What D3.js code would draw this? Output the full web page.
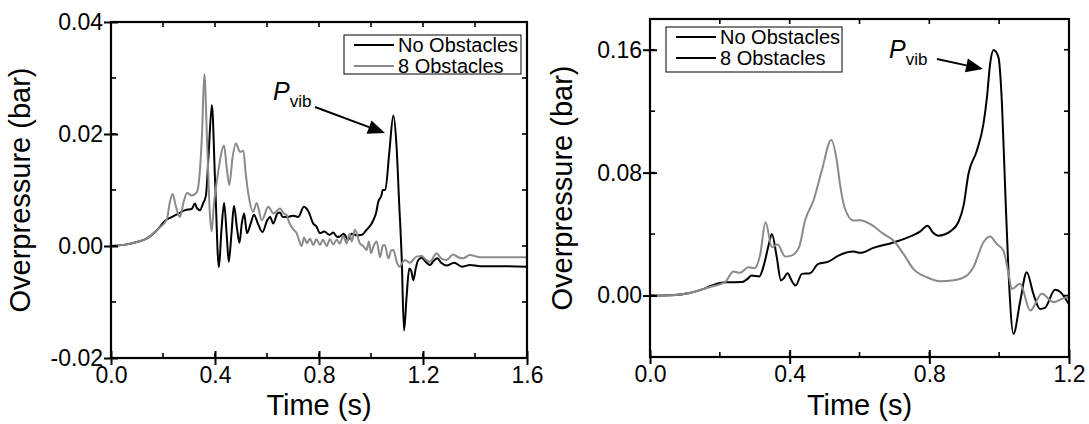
<!DOCTYPE html>
<html>
<head>
<meta charset="utf-8">
<script src="https://cdn.jsdelivr.net/npm/d3@7"></script>
<style>
  body { margin: 0; background: #fff; }
  text { font-family: "Liberation Sans", Arial, sans-serif; fill: #000; }
</style>
</head>
<body>
<script>
// Left panel data (time s, overpressure bar)
const leftTimeNo = [0,0.05,0.10,0.14,0.18,0.21,0.235,0.26,0.285,0.31,0.323,0.33,0.342,0.354,0.365,0.375,0.388,0.40,0.415,0.425,0.435,0.445,0.453,0.463,0.473,0.485,0.494,0.503,0.512,0.523,0.537,0.55,0.565,0.583,0.60,0.612,0.624,0.64,0.65,0.66,0.68,0.70,0.72,0.742,0.76,0.778,0.79,0.804,0.82,0.84,0.855,0.87,0.88,0.895,0.912,0.925,0.945,0.965,0.983,0.995,1.009,1.02,1.028,1.04,1.045,1.055,1.07,1.086,1.098,1.108,1.118,1.127,1.137,1.147,1.155,1.163,1.172,1.182,1.195,1.21,1.227,1.24,1.255,1.27,1.291,1.32,1.35,1.38,1.42,1.5,1.6];
const leftNo = [0,0.0002,0.0007,0.0014,0.003,0.0046,0.0052,0.0058,0.0064,0.0066,0.0076,0.0068,0.0064,0.0076,0.009,0.016,0.0252,0.012,-0.0038,0.003,0.0077,0.002,-0.0028,0.002,0.0072,0.003,0.0006,0.004,0.0058,0.0023,0.004,0.0056,0.004,0.0025,0.0045,0.0052,0.004,0.0058,0.006,0.0052,0.0052,0.0054,0.0052,0.007,0.0061,0.004,0.0035,0.0023,0.0026,0.002,0.0024,0.0016,0.0017,0.0022,0.0011,0.0022,0.0019,0.002,0.0029,0.0035,0.0046,0.006,0.0079,0.009,0.0100,0.0100,0.0165,0.0233,0.018,0.008,-0.002,-0.0151,-0.009,-0.004,-0.0045,-0.0061,-0.004,-0.0025,-0.0021,-0.0028,-0.0034,-0.0027,-0.0022,-0.003,-0.0035,-0.003,-0.0037,-0.0034,-0.0036,-0.0036,-0.0037];
const leftTime8 = [0,0.05,0.10,0.14,0.18,0.215,0.225,0.237,0.25,0.265,0.28,0.293,0.31,0.33,0.34,0.35,0.359,0.37,0.38,0.387,0.395,0.41,0.435,0.445,0.455,0.468,0.481,0.496,0.509,0.518,0.528,0.547,0.56,0.58,0.605,0.625,0.65,0.665,0.676,0.685,0.695,0.705,0.714,0.722,0.733,0.743,0.753,0.765,0.778,0.79,0.804,0.815,0.83,0.842,0.855,0.868,0.88,0.893,0.906,0.918,0.926,0.938,0.957,0.97,0.983,0.992,1.0,1.01,1.022,1.035,1.045,1.053,1.067,1.078,1.086,1.1,1.111,1.12,1.13,1.15,1.175,1.195,1.21,1.227,1.252,1.27,1.291,1.316,1.335,1.355,1.38,1.42,1.5,1.6];
const left8 = [0,0.0002,0.0007,0.0014,0.003,0.0048,0.0075,0.0093,0.0070,0.0052,0.0080,0.0095,0.009,0.0096,0.0124,0.020,0.0307,0.018,0.006,0.0026,0.007,0.0125,0.0179,0.014,0.0109,0.016,0.0183,0.0168,0.017,0.013,0.0094,0.0061,0.0077,0.0046,0.007,0.0058,0.0067,0.0058,0.0055,0.0042,0.0034,0.0028,0.0023,0.0012,0.0,0.0015,0.0005,0.0013,0.0002,0.0012,0.0002,0.0011,0.0,0.0012,0.0003,0.0011,0.0004,0.0018,0.0005,0.0022,0.0008,0.0029,0.0005,0.0,-0.0007,0.0008,-0.0013,0.0,0.0008,-0.002,0.0,0.0002,-0.0022,-0.0008,-0.0007,-0.003,-0.0037,-0.003,-0.0025,-0.003,-0.0019,-0.0018,-0.0024,-0.0028,-0.0013,-0.0022,-0.0025,-0.0015,-0.002,-0.0022,-0.0016,-0.002,-0.002,-0.002];

// Right panel data
const rightTimeNo = [0,0.06,0.11,0.15,0.177,0.2,0.215,0.24,0.263,0.28,0.291,0.313,0.327,0.34,0.349,0.363,0.375,0.382,0.394,0.405,0.417,0.435,0.458,0.482,0.511,0.54,0.583,0.602,0.64,0.697,0.735,0.774,0.795,0.81,0.826,0.86,0.883,0.898,0.912,0.936,0.955,0.965,0.974,0.984,0.998,1.008,1.017,1.027,1.041,1.06,1.079,1.098,1.117,1.131,1.16,1.175,1.2];
const rightNo = [0,0.0002,0.0015,0.004,0.0065,0.0082,0.0087,0.0087,0.0088,0.011,0.013,0.0124,0.0206,0.033,0.0401,0.025,0.0098,0.011,0.0145,0.010,0.0065,0.0141,0.0145,0.0206,0.0221,0.026,0.0286,0.0278,0.031,0.0345,0.0375,0.0418,0.0455,0.041,0.039,0.0418,0.0477,0.0585,0.0791,0.0943,0.1117,0.129,0.1507,0.1598,0.155,0.1247,0.0704,0.0141,-0.0249,-0.004,0.0152,0.0011,-0.0087,-0.008,0.0037,0.0023,-0.0059];
const rightTime8 = [0,0.06,0.11,0.15,0.177,0.215,0.239,0.258,0.282,0.3,0.315,0.331,0.349,0.366,0.387,0.405,0.427,0.444,0.468,0.492,0.519,0.535,0.544,0.557,0.583,0.602,0.63,0.669,0.697,0.726,0.754,0.793,0.831,0.87,0.907,0.926,0.955,0.974,0.993,1.012,1.027,1.036,1.06,1.089,1.122,1.156,1.194,1.2];
const right8 = [0,0.0002,0.0015,0.004,0.0059,0.0087,0.0156,0.0148,0.0184,0.0178,0.026,0.0477,0.0315,0.0332,0.0254,0.026,0.0315,0.0488,0.0618,0.0813,0.1013,0.0878,0.0727,0.0575,0.0488,0.049,0.0466,0.0401,0.0358,0.0271,0.0174,0.0119,0.0093,0.010,0.013,0.0184,0.0347,0.0384,0.0336,0.0293,0.0141,0.0043,0.0076,-0.0098,0.0011,-0.0043,-0.0011,-0.002];

const legendNames = ["No Obstacles", "8 Obstacles"];
const leftXTicks = [0, 0.4, 0.8, 1.2, 1.6];
const leftYTicks = [-0.02, 0, 0.02, 0.04];
const rightXTicks = [0, 0.4, 0.8, 1.2];
const rightYTicks = [0, 0.08, 0.16];

const grey = "#8a8a8a";

const svg = d3.select("body").append("svg")
  .attr("width", 1089)
  .attr("height", 424);

function zip(t, v) { return t.map((d, i) => [d, v[i]]); }
// plain hyphen for negatives, like the original
const fmt2 = d => d3.format(".2f")(d).replace("\u2212", "-");

function panel(o) {
  const x = d3.scaleLinear().domain(o.xDomain).range([o.left, o.right]);
  const y = d3.scaleLinear().domain(o.yDomain).range([o.bottom, o.top]);
  const g = svg.append("g");

  const line = d3.line().x(d => x(d[0])).y(d => y(d[1])).curve(d3.curveMonotoneX);

  g.append("path").datum(zip(o.tNo, o.vNo))
    .attr("d", line).attr("fill", "none").attr("stroke", "#000").attr("stroke-width", 2);
  g.append("path").datum(zip(o.t8, o.v8))
    .attr("d", line).attr("fill", "none").attr("stroke", grey).attr("stroke-width", 2);

  // axes: major ticks crossing, minor inside
  const bottom = d3.axisBottom(x).tickValues(o.xTicks).tickSize(7).tickFormat(d3.format(".1f"));
  const ax = g.append("g").attr("transform", "translate(0," + o.bottom + ")").call(bottom);
  ax.selectAll("line").attr("y1", -7);
  ax.selectAll("text").attr("font-size", 23).attr("y", 9);

  const leftAx = d3.axisLeft(y).tickValues(o.yTicks).tickSize(7).tickFormat(fmt2);
  const ay = g.append("g").attr("transform", "translate(" + o.left + ",0)").call(leftAx);
  ay.selectAll("line").attr("x1", 7);
  ay.selectAll("text").attr("font-size", 23).attr("x", -8);

  [ax, ay].forEach(a => {
    a.select(".domain").remove();
    a.selectAll("line").attr("stroke", "#000").attr("stroke-width", 2);
    a.selectAll("text").style("font-family", "'Liberation Sans', Arial, sans-serif");
  });

  // minor ticks + mirror ticks on top and right
  const minorX = d3.range(o.xDomain[0], o.xDomain[1] + 1e-9, o.xMinor);
  const minorY = d3.range(o.yDomain[0], o.yDomain[1] + 1e-9, o.yMinor);
  const tk = g.append("g").attr("stroke", "#000").attr("stroke-width", 1.6);
  minorX.forEach(v => {
    tk.append("line").attr("x1", x(v)).attr("x2", x(v)).attr("y1", o.bottom).attr("y2", o.bottom - 5);
    tk.append("line").attr("x1", x(v)).attr("x2", x(v)).attr("y1", o.top).attr("y2", o.top + 5);
  });
  minorY.forEach(v => {
    tk.append("line").attr("y1", y(v)).attr("y2", y(v)).attr("x1", o.left).attr("x2", o.left + 5);
    tk.append("line").attr("y1", y(v)).attr("y2", y(v)).attr("x1", o.right).attr("x2", o.right - 5);
  });

  // frame
  g.append("rect")
    .attr("x", o.left).attr("y", o.top)
    .attr("width", o.right - o.left).attr("height", o.bottom - o.top)
    .attr("fill", "none").attr("stroke", "#000").attr("stroke-width", 2.2);

  // axis titles
  g.append("text").attr("x", (o.left + o.right) / 2).attr("y", 415)
    .attr("text-anchor", "middle").attr("font-size", 29).text("Time (s)");
  g.append("text")
    .attr("transform", "translate(" + o.titleX + "," + ((o.top + o.bottom) / 2) + ") rotate(-90)")
    .attr("text-anchor", "middle").attr("font-size", 29).text("Overpressure (bar)");

  // legend
  const lg = g.append("g");
  lg.append("rect").attr("x", o.leg[0]).attr("y", o.leg[1]).attr("width", o.leg[2]).attr("height", o.leg[3])
    .attr("fill", "#fff").attr("stroke", "#000").attr("stroke-width", 1);
  legendNames.forEach((name, i) => {
    const ly = o.leg[1] + 10 + i * 21;
    lg.append("line").attr("x1", o.leg[0] + 10).attr("x2", o.leg[0] + 50).attr("y1", ly).attr("y2", ly)
      .attr("stroke", o.legColors[i]).attr("stroke-width", 2);
    lg.append("text").attr("x", o.leg[0] + 54).attr("y", ly + 7).attr("font-size", 20).text(name);
  });

  // P_vib annotation
  const ann = g.append("text").attr("x", o.pvib[0]).attr("y", o.pvib[1]);
  ann.append("tspan").attr("font-size", 25).attr("font-style", "italic").text("P");
  ann.append("tspan").attr("font-size", 17).attr("dy", 7).text("vib");

  const [x1, y1, x2, y2] = o.arrow;
  const ang = Math.atan2(y2 - y1, x2 - x1);
  const L = 17, W = 7;
  const bx = x2 - L * Math.cos(ang), by = y2 - L * Math.sin(ang);
  g.append("line").attr("x1", x1).attr("y1", y1).attr("x2", bx).attr("y2", by)
    .attr("stroke", "#000").attr("stroke-width", 2);
  g.append("path")
    .attr("d", "M" + x2 + "," + y2 +
      "L" + (bx + W * Math.sin(ang)) + "," + (by - W * Math.cos(ang)) +
      "L" + (bx - W * Math.sin(ang)) + "," + (by + W * Math.cos(ang)) + "Z")
    .attr("fill", "#000");
}

panel({
  left: 111, right: 527, top: 22, bottom: 358,
  xDomain: [0, 1.6], yDomain: [-0.02, 0.04],
  xTicks: leftXTicks, yTicks: leftYTicks,
  xMinor: 0.2, yMinor: 0.01,
  tNo: leftTimeNo, vNo: leftNo, t8: leftTime8, v8: left8,
  titleX: 30,
  leg: [344, 35, 177, 39], legColors: ["#000", grey],
  pvib: [273, 100], arrow: [315, 107, 385, 133]
});

panel({
  left: 650, right: 1069, top: 19, bottom: 357,
  xDomain: [0, 1.2], yDomain: [-0.04, 0.18],
  xTicks: rightXTicks, yTicks: rightYTicks,
  xMinor: 0.2, yMinor: 0.04,
  tNo: rightTimeNo, vNo: rightNo, t8: rightTime8, v8: right8,
  titleX: 572,
  leg: [666, 27, 176, 45], legColors: ["#000", "#000"],
  pvib: [889, 58], arrow: [937, 59, 983, 69]
});
</script>
</body>
</html>
